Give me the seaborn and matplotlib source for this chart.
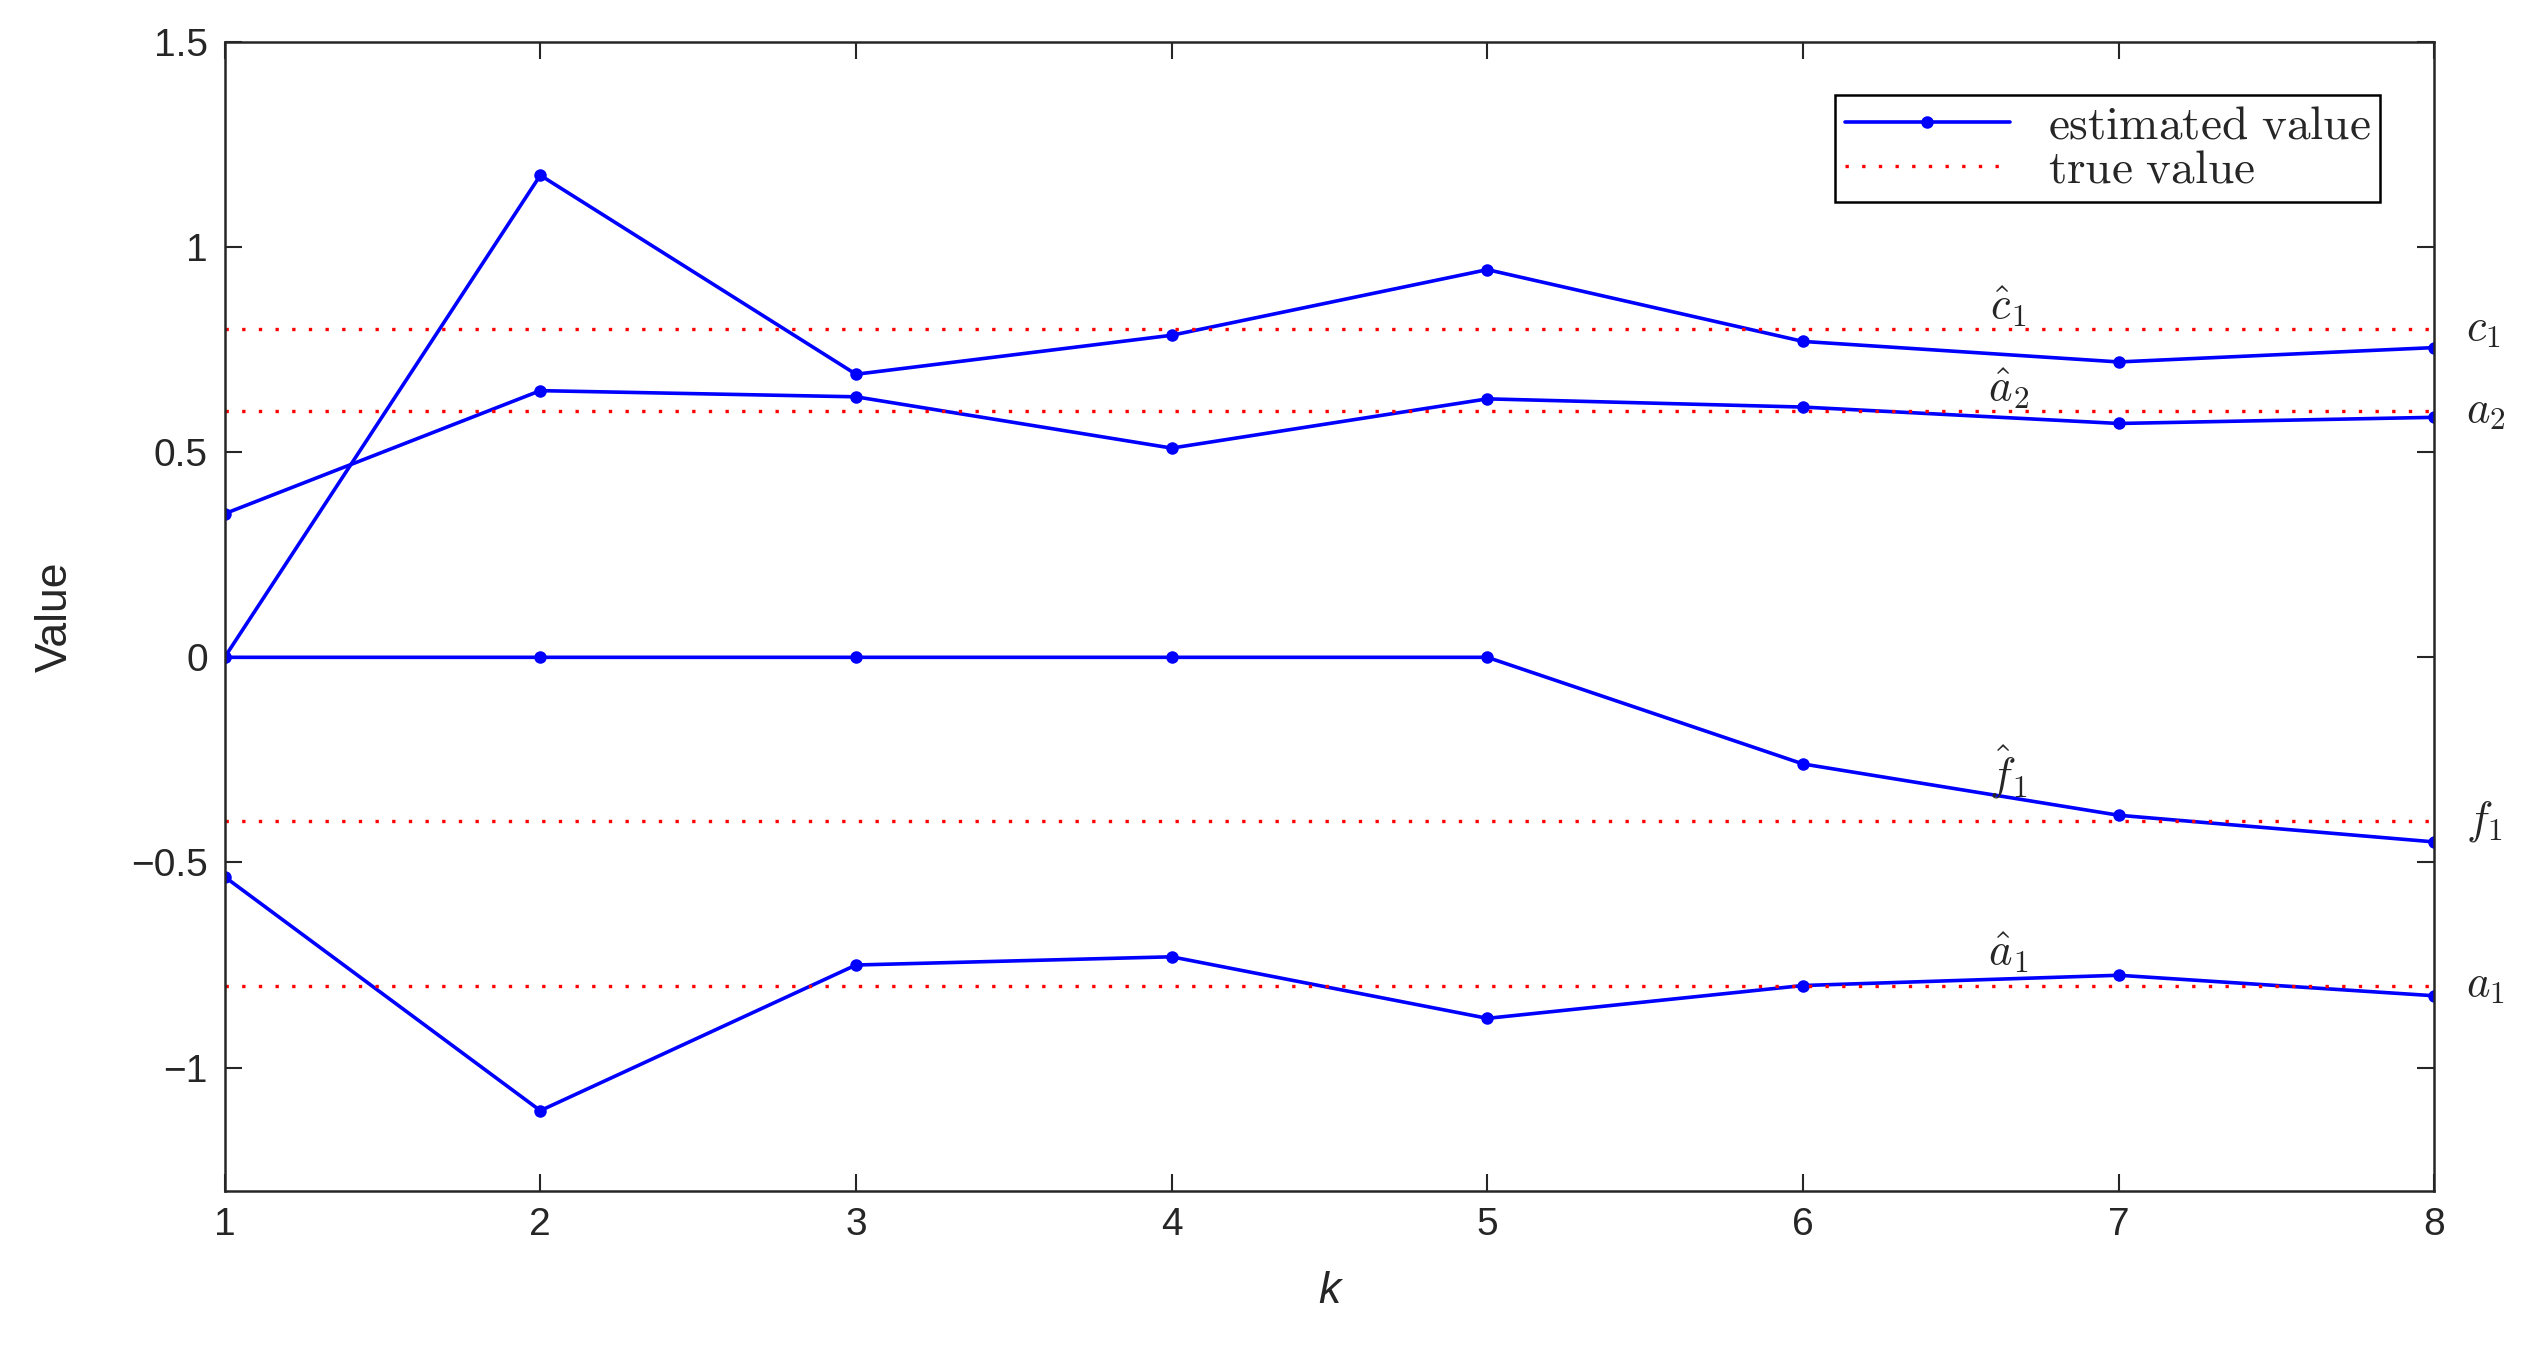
import matplotlib
matplotlib.use("Agg")
import matplotlib.pyplot as plt
import seaborn as sns
import pandas as pd

k = [1, 2, 3, 4, 5, 6, 7, 8]
c1_est = [0.0, 1.175, 0.69, 0.785, 0.945, 0.77, 0.72, 0.755]
a2_est = [0.35, 0.65, 0.635, 0.51, 0.63, 0.61, 0.57, 0.585]
f1_est = [0.0, 0.0, 0.0, 0.0, 0.0, -0.26, -0.385, -0.45]
a1_est = [-0.535, -1.105, -0.75, -0.73, -0.88, -0.80, -0.775, -0.825]
true_vals = [0.8, 0.6, -0.4, -0.8]
right_labels = [r"$c_1$", r"$a_2$", r"$f_1$", r"$a_1$"]
hat_labels = [r"$\hat{c}_1$", r"$\hat{a}_2$", r"$\hat{f}_1$", r"$\hat{a}_1$"]

sns.set_style("ticks")
plt.rcParams["font.family"] = ["Liberation Sans", "DejaVu Sans"]
plt.rcParams["mathtext.fontset"] = "cm"

fig = plt.figure(figsize=(25.24, 13.53), dpi=100)
ax = fig.add_axes([0.089, 0.120, 0.8755, 0.849])

series = {"c1": c1_est, "a2": a2_est, "f1": f1_est, "a1": a1_est}
df = pd.DataFrame([(kk, name, v) for name, vals in series.items() for kk, v in zip(k, vals)],
                  columns=["k", "s", "v"])
for i, (name, vals) in enumerate(series.items()):
    sns.lineplot(data=df[df.s == name], x="k", y="v", ax=ax, color="#0000ff", lw=2.6,
                 marker="o", markersize=9, markeredgewidth=0,
                 label=r"$\mathrm{estimated\ value}$" if i == 0 else None)
for i, tv in enumerate(true_vals):
    ax.plot([1, 8], [tv, tv], color="red", ls=(0, (1, 4)), lw=2.4,
            label=r"$\mathrm{true\ value}$" if i == 0 else None)
    ax.text(8.1, tv, right_labels[i], fontsize=32, va="center", ha="left")
hat_y = [0.8, 0.6, -0.35, -0.72]
for lab, y in zip(hat_labels, hat_y):
    ax.text(6.65, y, lab, fontsize=32, va="bottom" if y > -0.5 else "center", ha="center")

ax.set_xlim(1, 8)
ax.set_ylim(-1.3, 1.5)
ax.set_xticks(k)
ax.set_yticks([-1, -0.5, 0, 0.5, 1, 1.5])
ax.set_yticklabels(["\u22121", "\u22120.5", "0", "0.5", "1", "1.5"])
ax.tick_params(direction="in", length=12, width=1.5, labelsize=28, top=True, right=True, pad=12)
for sp in ax.spines.values():
    sp.set_linewidth(1.8)
ax.set_xlabel("k", fontsize=32, style="italic", labelpad=20)
ax.set_ylabel("Value", fontsize=32, labelpad=40)
leg = ax.legend(loc="upper right", bbox_to_anchor=(0.986, 0.974), fontsize=34, frameon=True,
                fancybox=False, edgecolor="black", framealpha=1, handlelength=3.5,
                borderpad=0.2, labelspacing=0.0)
leg.get_frame().set_linewidth(1.8)
fig.savefig("out.png", dpi=100)
